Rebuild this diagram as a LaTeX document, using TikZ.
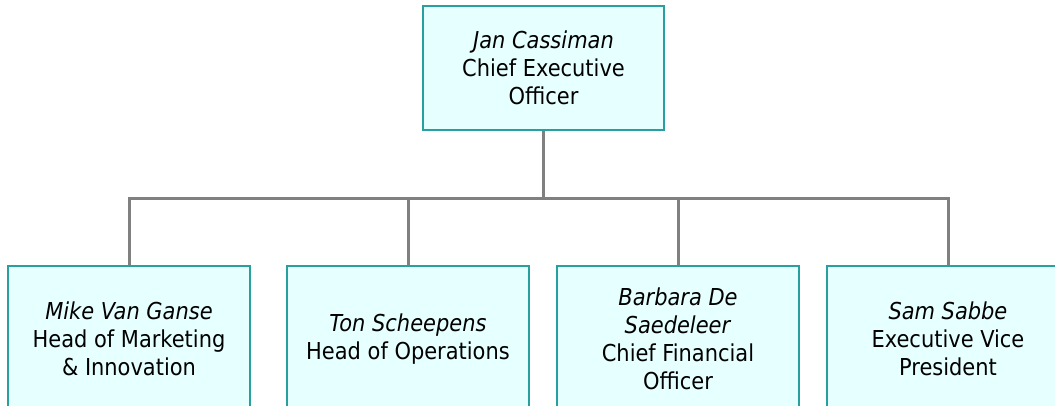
\documentclass[tikz,border=0pt]{standalone}
\usepackage{fontspec}
\setmainfont{DejaVu Sans Condensed}
\definecolor{boxfill}{RGB}{230,255,255}
\definecolor{boxline}{RGB}{40,160,160}
\definecolor{conn}{RGB}{128,128,128}
\begin{document}
\begin{tikzpicture}[x=1pt,y=1pt,
  person/.style={draw=boxline, line width=1.5pt, fill=boxfill, minimum width=242pt,
    minimum height=146pt, inner sep=0pt, align=center,
    font=\fontsize{23.3}{28}\selectfont},
  topperson/.style={person, minimum width=241pt, minimum height=124pt},
  link/.style={draw=conn, line width=3pt}]
\useasboundingbox (0,0) rectangle (1055,-406);
\clip (0,0) rectangle (1055,-406);
\node[topperson] (ceo) at (543.5,-68) {\textit{Jan Cassiman}\\Chief Executive\\Officer};
\node[person] (b1) at (129,-339) {\textit{Mike Van Ganse}\\Head of Marketing\\\& Innovation};
\node[person] (b2) at (408,-339) {\textit{Ton Scheepens}\\Head of Operations};
\node[person] (b3) at (678,-339) {\textit{Barbara De}\\\textit{Saedeleer}\\Chief Financial\\Officer};
\node[person] (b4) at (948,-339) {\textit{Sam Sabbe}\\Executive Vice\\President};
\coordinate (j) at (543.5,-199);
\draw[link] (ceo.south) -- (j);
\draw[link] (j) -| (b1.north);
\draw[link] (j) -| (b2.north);
\draw[link] (j) -| (b3.north);
\draw[link] (j) -| (b4.north);
\end{tikzpicture}
\end{document}
